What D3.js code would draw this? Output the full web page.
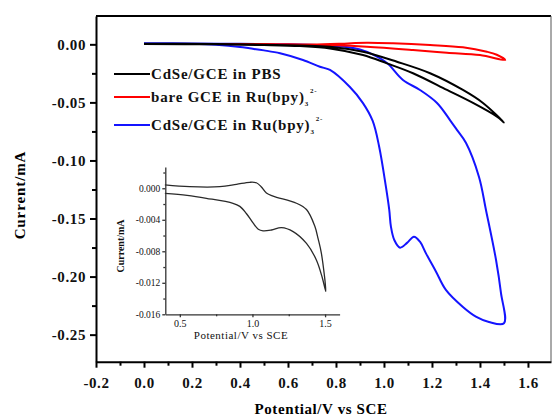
<!DOCTYPE html>
<html>
<head>
<meta charset="utf-8">
<script src="https://cdn.jsdelivr.net/npm/d3@7"></script>
<style>
  body { margin: 0; background: #fff; }
  svg { display: block; }
  text { font-family: "Liberation Serif", "Times New Roman", serif; }
</style>
</head>
<body>
<svg id="draw" width="552" height="419"></svg>
<script>
// main CV curves, [potential V, current mA], forward scan then reverse
const blueCurve = [
  [0.00, 0.0008], [0.10, 0.0006], [0.20, 0.0004], [0.30, -0.0004], [0.40, -0.0022],
  [0.44, -0.0034], [0.50, -0.0052], [0.567, -0.0077], [0.6625, -0.0135], [0.733, -0.0193],
  [0.775, -0.0221], [0.858, -0.0368], [0.9125, -0.0506], [0.953, -0.066], [0.98, -0.0882],
  [1.008, -0.1226], [1.022, -0.1426], [1.029, -0.157], [1.043, -0.1685], [1.067, -0.1751],
  [1.096, -0.171], [1.125, -0.1656], [1.15, -0.170], [1.175, -0.180], [1.217, -0.1958],
  [1.258, -0.2115], [1.329, -0.2262], [1.383, -0.2345], [1.4375, -0.2391], [1.5, -0.2402],
  [1.4875, -0.2141], [1.467, -0.1857], [1.425, -0.1426], [1.396, -0.1142], [1.342, -0.085],
  [1.304, -0.0737], [1.275, -0.0652], [1.221, -0.0505], [1.15, -0.0393], [1.079, -0.0307],
  [1.0125, -0.0161], [0.95, -0.0085], [0.9, -0.0045], [0.85, -0.0025], [0.75, -0.001],
  [0.6, 0.0], [0.4, 0.0004], [0.2, 0.0008], [0.0, 0.001]
];
const blackCurve = [
  [0.0, 0.0005], [0.3, 0.0003], [0.5, -0.0003], [0.65, -0.001], [0.775, -0.002],
  [0.9125, -0.0064], [1.054, -0.0150], [1.192, -0.0249], [1.329, -0.0393], [1.4125, -0.0505],
  [1.5, -0.0672],
  [1.471, -0.0623], [1.371, -0.0505], [1.2625, -0.0393], [1.121, -0.0249], [1.0125, -0.0164],
  [0.9125, -0.0092], [0.775, -0.0035], [0.65, -0.0015], [0.5, -0.0006], [0.3, 0.0], [0.0, 0.0003]
];
const redCurve = [
  [0.0, 0.0003], [0.5, 0.0002], [0.70, -0.0002], [0.85, 0.0008], [0.929, 0.0014],
  [1.0375, 0.0009], [1.192, -0.0006], [1.329, -0.0026], [1.429, -0.0064], [1.47, -0.009],
  [1.505, -0.0135],
  [1.4, -0.0092], [1.2625, -0.0072], [1.121, -0.0049], [0.929, -0.0021], [0.8, -0.0008],
  [0.6, 0.0], [0.0, 0.0002]
];

// inset CV (CdSe/GCE in PBS, enlarged)
const insetCurve = [
  [0.397, -0.00064], [0.55, -0.0009], [0.683, -0.00127], [0.866, -0.00191], [0.913, -0.0023],
  [0.958, -0.0032], [1.004, -0.0044], [1.04, -0.0052], [1.073, -0.0054], [1.131, -0.0053],
  [1.2, -0.005], [1.28, -0.0055], [1.372, -0.0070], [1.44, -0.0091], [1.48, -0.0113],
  [1.505, -0.0131],
  [1.475, -0.0083], [1.452, -0.0064], [1.429, -0.0048], [1.372, -0.0027], [1.303, -0.0019],
  [1.142, -0.001], [1.096, -0.0006], [1.06, 0.0002], [1.027, 0.0007], [0.981, 0.00076],
  [0.89, 0.0005], [0.775, 0.0002], [0.567, 0.0002], [0.397, 0.00042]
];

const xTicks = [-0.2, 0.0, 0.2, 0.4, 0.6, 0.8, 1.0, 1.2, 1.4, 1.6];
const xMinor = [-0.1, 0.1, 0.3, 0.5, 0.7, 0.9, 1.1, 1.3, 1.5];
const yTicks = [0.00, -0.05, -0.10, -0.15, -0.20, -0.25];
const yMinor = [-0.025, -0.075, -0.125, -0.175, -0.225];
const insetXTicks = [0.5, 1.0, 1.5];
const insetXMinor = [0.75, 1.25];
const insetYTicks = [0.000, -0.004, -0.008, -0.012, -0.016];
const insetYMinor = [0.002, -0.002, -0.006, -0.010, -0.014];

const series = [
  { name: "CdSe/GCE in PBS", ru: false, color: "#000000", data: blackCurve },
  { name: "bare GCE in Ru(bpy)", ru: true, color: "#ff0000", data: redCurve },
  { name: "CdSe/GCE in Ru(bpy)", ru: true, color: "#1414ff", data: blueCurve }
];

// plain hyphen instead of d3's unicode minus
const fmt = n => v => (Math.abs(v) < 1e-9 ? 0 : v).toFixed(n);

const svg = d3.select("#draw");

const x = d3.scaleLinear().domain([-0.2, 1.696]).range([96, 551]);
const y = d3.scaleLinear().domain([-0.2733, 0.0244]).range([361.7, 16]);

const line = d3.line()
  .x(d => x(d[0]))
  .y(d => y(d[1]))
  .curve(d3.curveCatmullRom.alpha(0.5));

// frame (top and right)
svg.append("line").attr("x1", 96).attr("x2", 551).attr("y1", 16).attr("y2", 16)
  .attr("stroke", "#000").attr("stroke-width", 2);
svg.append("line").attr("x1", 551).attr("x2", 551).attr("y1", 16).attr("y2", 361.7)
  .attr("stroke", "#555").attr("stroke-width", 1);

// curves
svg.selectAll("path.cv")
  .data(series.slice().reverse())
  .enter()
  .append("path")
  .attr("class", "cv")
  .attr("d", s => line(s.data))
  .attr("fill", "none")
  .attr("stroke", s => s.color)
  .attr("stroke-width", 2);

function styleAxis(g, width, fontSize, bold) {
  g.select(".domain").attr("stroke-width", width);
  g.selectAll(".tick line").attr("stroke-width", width);
  g.selectAll("text")
    .attr("font-family", "Liberation Serif, serif")
    .attr("font-size", fontSize)
    .attr("font-weight", bold ? "bold" : "normal")
    .attr("fill", "#111");
}

// main axes
const gx = svg.append("g").attr("transform", "translate(0,361.7)")
  .call(d3.axisBottom(x).tickValues(xTicks).tickFormat(fmt(1))
    .tickSize(6).tickPadding(10).tickSizeOuter(0));
styleAxis(gx, 2, 15, true);
gx.selectAll("text").attr("letter-spacing", "0.6px");
const gxm = svg.append("g").attr("transform", "translate(0,361.7)")
  .call(d3.axisBottom(x).tickValues(xMinor).tickFormat("").tickSize(4).tickSizeOuter(0));
gxm.select(".domain").remove();
gxm.selectAll(".tick line").attr("stroke-width", 2);

const gy = svg.append("g").attr("transform", "translate(96,0)")
  .call(d3.axisLeft(y).tickValues(yTicks).tickFormat(fmt(2))
    .tickSize(6).tickPadding(4).tickSizeOuter(0));
styleAxis(gy, 2, 15, true);
gy.selectAll("text").attr("letter-spacing", "0.6px");
const gym = svg.append("g").attr("transform", "translate(96,0)")
  .call(d3.axisLeft(y).tickValues(yMinor).tickFormat("").tickSize(4).tickSizeOuter(0));
gym.select(".domain").remove();
gym.selectAll(".tick line").attr("stroke-width", 2);

// axis titles
svg.append("text")
  .attr("x", 321).attr("y", 414)
  .attr("text-anchor", "middle")
  .attr("font-size", 15).attr("font-weight", "bold")
  .attr("letter-spacing", "0.6px")
  .text("Potential/V vs SCE");
svg.append("text")
  .attr("transform", "translate(25,195) rotate(-90)")
  .attr("text-anchor", "middle")
  .attr("font-size", 15).attr("font-weight", "bold")
  .attr("letter-spacing", "0.9px")
  .text("Current/mA");

// legend
const legendRows = [74, 97, 125];
const legend = svg.append("g");
series.forEach((s, i) => {
  const ly = legendRows[i];
  legend.append("line")
    .attr("x1", 114).attr("x2", 150).attr("y1", ly).attr("y2", ly)
    .attr("stroke", s.color).attr("stroke-width", 2);
  const t = legend.append("text")
    .attr("x", 151).attr("y", ly + 5)
    .attr("font-size", 15).attr("font-weight", "bold")
    .attr("letter-spacing", "0.8px")
    .attr("fill", "#111");
  t.append("tspan").text(s.name);
  if (s.ru) {
    t.append("tspan").attr("font-size", 7).attr("dy", 4).text("3");
    t.append("tspan").attr("font-size", 7).attr("dy", -13).attr("dx", 1).text("2-");
  }
});

// inset
const ix = d3.scaleLinear().domain([0.4, 1.6]).range([165.3, 339.6]);
const iy = d3.scaleLinear().domain([-0.016, 0.0027]).range([314.3, 167]);
const iline = d3.line()
  .x(d => ix(d[0]))
  .y(d => iy(d[1]))
  .curve(d3.curveCatmullRom.alpha(0.5));

svg.append("path")
  .attr("d", iline(insetCurve))
  .attr("fill", "none")
  .attr("stroke", "#2a2a2a")
  .attr("stroke-width", 1.3);

const igx = svg.append("g").attr("transform", "translate(0,314.3)")
  .call(d3.axisBottom(ix).tickValues(insetXTicks).tickFormat(fmt(1))
    .tickSize(3).tickPadding(3).tickSizeOuter(0));
styleAxis(igx, 1.3, 10, false);
igx.selectAll("path, line").attr("stroke", "#333");
const igxm = svg.append("g").attr("transform", "translate(0,314.3)")
  .call(d3.axisBottom(ix).tickValues(insetXMinor).tickFormat("").tickSize(2).tickSizeOuter(0));
igxm.select(".domain").remove();
igxm.selectAll(".tick line").attr("stroke", "#333").attr("stroke-width", 1.3);

const igy = svg.append("g").attr("transform", "translate(165.3,0)")
  .call(d3.axisLeft(iy).tickValues(insetYTicks).tickFormat(fmt(3))
    .tickSize(3).tickPadding(2).tickSizeOuter(0));
styleAxis(igy, 1.3, 9.5, false);
igy.selectAll("path, line").attr("stroke", "#333");
const igym = svg.append("g").attr("transform", "translate(165.3,0)")
  .call(d3.axisLeft(iy).tickValues(insetYMinor).tickFormat("").tickSize(2).tickSizeOuter(0));
igym.select(".domain").remove();
igym.selectAll(".tick line").attr("stroke", "#333").attr("stroke-width", 1.3);

svg.append("text")
  .attr("x", 241).attr("y", 339)
  .attr("text-anchor", "middle")
  .attr("font-size", 11)
  .attr("letter-spacing", "0.5px")
  .attr("fill", "#111")
  .text("Potential/V vs SCE");
svg.append("text")
  .attr("transform", "translate(124,246) rotate(-90)")
  .attr("text-anchor", "middle")
  .attr("font-size", 10).attr("font-weight", "bold")
  .attr("fill", "#111")
  .text("Current/mA");
</script>
</body>
</html>
